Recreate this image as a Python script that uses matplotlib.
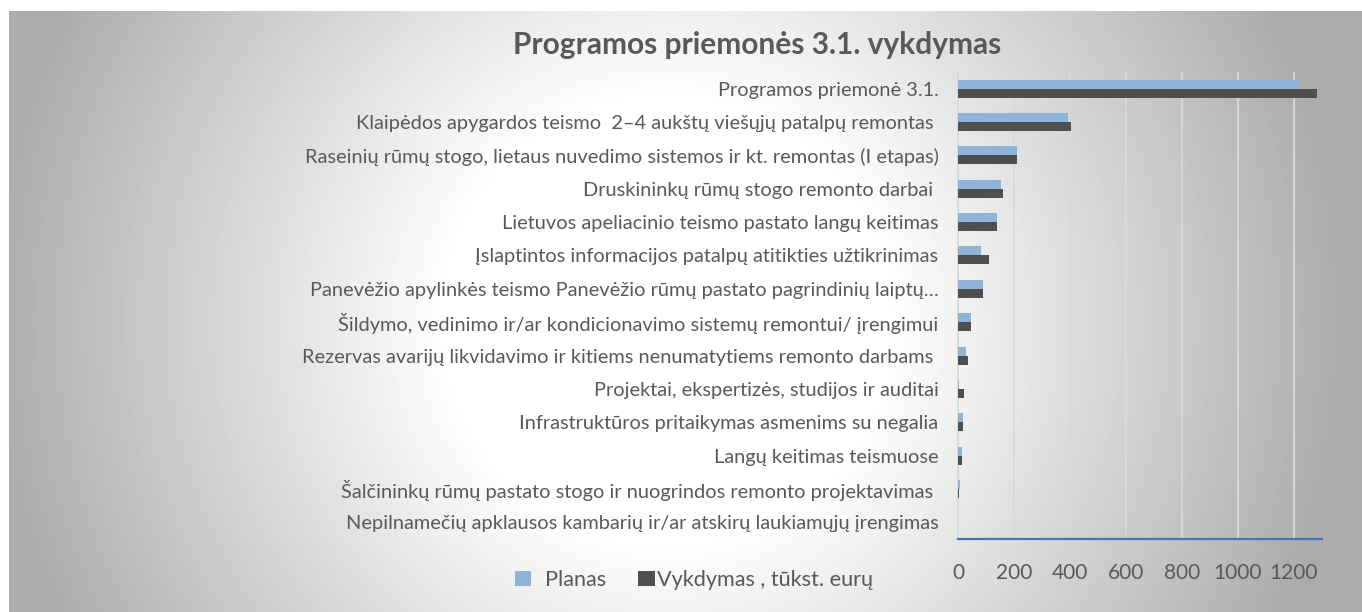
import numpy as np
import matplotlib
matplotlib.use("Agg")
import matplotlib.pyplot as plt
from matplotlib.patches import Patch

plt.rcParams['font.family'] = ['Lato', 'DejaVu Sans']

# === Data (tūkst. eurų)
categories = [
    "Programos priemonė 3.1.",
    "Klaipėdos apygardos teismo  2–4 aukštų viešųjų patalpų remontas ",
    "Raseinių rūmų stogo, lietaus nuvedimo sistemos ir kt. remontas (I etapas)",
    "Druskininkų rūmų stogo remonto darbai ",
    "Lietuvos apeliacinio teismo pastato langų keitimas",
    "Įslaptintos informacijos patalpų atitikties užtikrinimas",
    "Panevėžio apylinkės teismo Panevėžio rūmų pastato pagrindinių laiptų…",
    "Šildymo, vedinimo ir/ar kondicionavimo sistemų remontui/ įrengimui",
    "Rezervas avarijų likvidavimo ir kitiems nenumatytiems remonto darbams ",
    "Projektai, ekspertizės, studijos ir auditai",
    "Infrastruktūros pritaikymas asmenims su negalia",
    "Langų keitimas teismuose",
    "Šalčininkų rūmų pastato stogo ir nuogrindos remonto projektavimas ",
    "Nepilnamečių apklausos kambarių ir/ar atskirų laukiamųjų įrengimas",
]
planas = [1220, 393, 212, 153, 141, 81, 91, 48, 30, 5, 18, 16, 8, 0]
vykdymas = [1283, 403, 212, 159, 141, 109, 91, 48, 35, 21, 17, 15, 5, 0]
x_ticks = [0, 200, 400, 600, 800, 1000, 1200]

TEXT = '#595959'
C_PLAN = '#8fb4d9'
C_VYK = '#4f4f4f'

W, H = 1362, 612
fig = plt.figure(figsize=(W / 100, H / 100), dpi=100)
fig.patch.set_facecolor('white')

# === Radial gray background of the chart area
bg = fig.add_axes([9 / W, 0, 1 - 9 / W, 1 - 11 / H], zorder=0)
yy, xx = np.mgrid[11:H, 9:W]
dist = np.hypot(xx - 667, yy - 320)
shade = np.clip(255 - 0.18 * np.clip(dist - 217, 0, None), 172, 255) / 255
bg.imshow(shade, cmap='gray', vmin=0, vmax=1, aspect='auto', interpolation='bilinear')
bg.axis('off')

# === Bars
ax = fig.add_axes([958 / W, 1 - 539 / H, (1322 - 958) / W, (539 - 72) / H], zorder=1)
ax.set_facecolor('none')
pos = np.arange(len(categories))
h = 0.27
ax.barh(pos - h / 2, planas, height=h, color=C_PLAN, linewidth=0, zorder=3)
ax.barh(pos + h / 2, vykdymas, height=h, color=C_VYK, linewidth=0, zorder=3)

ax.set_xlim(0, 1300)
ax.set_ylim(len(categories) - 0.5, -0.5)
ax.set_xticks(x_ticks)
ax.set_xticklabels([str(t) for t in x_ticks], fontsize=15, color=TEXT)
ax.set_yticks(pos)
ax.set_yticklabels(categories, fontsize=14.4, color=TEXT)
ax.tick_params(axis='both', length=0)
ax.tick_params(axis='x', pad=17)
ax.tick_params(axis='y', pad=14)

ax.set_axisbelow(True)
ax.xaxis.grid(True, color='#d9d9d9', linewidth=1.3)
for s in ['top', 'right']:
    ax.spines[s].set_visible(False)
ax.spines['left'].set_color('#d9d9d9')
ax.spines['left'].set_linewidth(1.3)
ax.spines['bottom'].set_color('#4472c4')
ax.spines['bottom'].set_linewidth(1.6)

fig.text(757 / W, 1 - 45 / H, "Programos priemonės 3.1. vykdymas", ha='center', va='center',
         fontsize=21.5, fontweight='bold', color=TEXT)

handles = [Patch(facecolor=C_PLAN), Patch(facecolor=C_VYK)]
fig.legend(handles, ["  Planas", "Vykdymas , tūkst. eurų"], loc='center',
           bbox_to_anchor=(694 / W, 1 - 580 / H), ncol=2, frameon=False,
           fontsize=15.6, labelcolor=TEXT, handlelength=0.75, handleheight=0.75,
           handletextpad=0.12, columnspacing=1.5)

fig.savefig("out.png", dpi=100, facecolor='white')
